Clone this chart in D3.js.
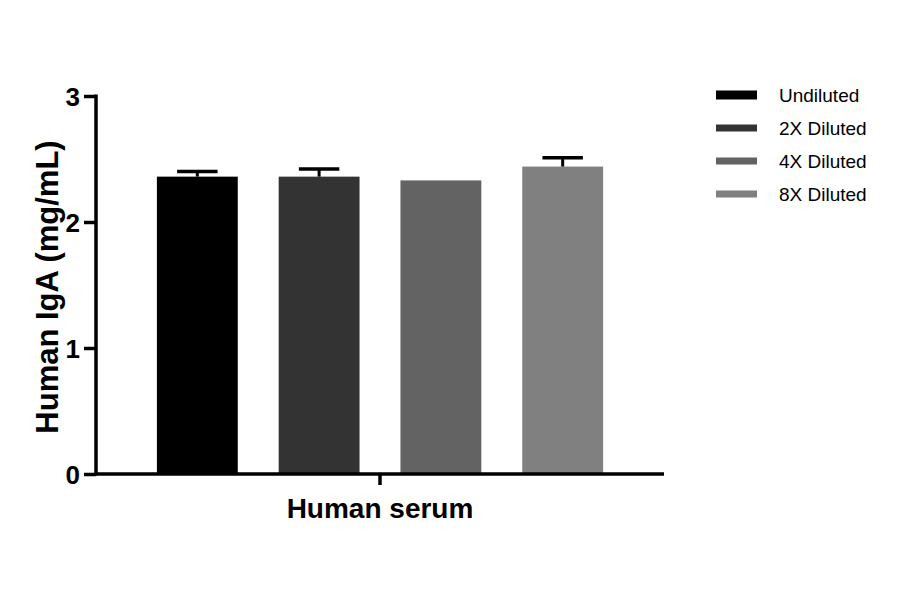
<!DOCTYPE html>
<html lang="en">
<head>
<meta charset="utf-8">
<title>Human IgA</title>
<style>
    body { margin: 0; background: #fff; }
    .axis path, .axis line { stroke: #000; stroke-width: 3.5px; }
    .axis text { font: bold 26px "Liberation Sans", Arial, sans-serif; fill: #000; }
    .legend text { font: 19px "Liberation Sans", Arial, sans-serif; fill: #000; }
</style>
</head>
<body>
<script src="https://cdn.jsdelivr.net/npm/d3@7"></script>
<script>

    // data
    var series = ["Undiluted", "2X Diluted", "4X Diluted", "8X Diluted"];
    var means = [2.36, 2.36, 2.33, 2.44];
    var errors = [0.04, 0.06, 0, 0.07];
    var colors = ["#000000", "#333333", "#636363", "#808080"];
    var yTicks = [0, 1, 2, 3];
    var groupLabel = "Human serum";

    var width = 900, height = 594;
    var margin = {top: 96, left: 96, bottom: 120, right: 236};

    var svg = d3.select("body").append("svg")
        .attr("width", width)
        .attr("height", height);

    var y = d3.scaleLinear()
        .domain([0, 3])
        .range([height - margin.bottom, margin.top]);

    var x = d3.scaleBand()
        .domain(series)
        .range([margin.left, width - margin.right])
        .paddingInner(0.336)
        .paddingOuter(0.5);

    // bars
    svg.selectAll("rect.bar")
        .data(series)
        .enter().append("rect")
        .attr("class", "bar")
        .attr("x", function(d) { return x(d); })
        .attr("y", function(d, i) { return y(means[i]); })
        .attr("width", x.bandwidth())
        .attr("height", function(d, i) { return y(0) - y(means[i]); })
        .attr("fill", function(d, i) { return colors[i]; });

    // error bars (upper only)
    var err = svg.selectAll("g.err")
        .data(series.filter(function(d, i) { return errors[i] > 0; }))
        .enter().append("g")
        .attr("class", "err");

    err.append("line")
        .attr("x1", function(d) { return x(d) + x.bandwidth() / 2; })
        .attr("x2", function(d) { return x(d) + x.bandwidth() / 2; })
        .attr("y1", function(d) { return y(means[series.indexOf(d)]); })
        .attr("y2", function(d) { var i = series.indexOf(d); return y(means[i] + errors[i]); })
        .attr("stroke", "#000")
        .attr("stroke-width", 3);

    err.append("line")
        .attr("x1", function(d) { return x(d) + x.bandwidth() / 4; })
        .attr("x2", function(d) { return x(d) + x.bandwidth() * 3 / 4; })
        .attr("y1", function(d) { var i = series.indexOf(d); return y(means[i] + errors[i]); })
        .attr("y2", function(d) { var i = series.indexOf(d); return y(means[i] + errors[i]); })
        .attr("stroke", "#000")
        .attr("stroke-width", 3.5);

    // y axis
    var yAxis = svg.append("g")
        .attr("class", "axis")
        .attr("transform", "translate(" + margin.left + ",0)")
        .call(d3.axisLeft(y).tickValues(yTicks).tickFormat(d3.format("d")).tickSize(12).tickSizeOuter(0));
    yAxis.select("path").attr("d", "M0," + (y(3) - 1.5) + "V" + (y(0) + 1.5));
    yAxis.selectAll("text").attr("x", -16).attr("dy", "0.36em");

    // x axis
    var xg = d3.scaleBand().domain([groupLabel]).range([margin.left, width - margin.right]);
    var xAxis = svg.append("g")
        .attr("class", "axis")
        .attr("transform", "translate(0," + y(0) + ")")
        .call(d3.axisBottom(xg).tickSize(11).tickSizeOuter(0));
    xAxis.select("path").attr("d", "M" + (margin.left - 1.5) + ",0H" + (width - margin.right));
    xAxis.selectAll("text").attr("y", 44).attr("dy", 0).style("font-size", "28px");

    // y title
    svg.append("text")
        .attr("transform", "translate(58," + ((y(0) + y(3)) / 2 + 2) + ") rotate(-90)")
        .attr("text-anchor", "middle")
        .style("font", "bold 31px 'Liberation Sans', Arial, sans-serif")
        .text("Human IgA (mg/mL)");

    // legend
    var legend = svg.append("g").attr("class", "legend")
        .attr("transform", "translate(716,95)");
    var legendY = d3.scalePoint().domain(series).range([0, 99]);

    legend.selectAll("rect")
        .data(series)
        .enter().append("rect")
        .attr("x", 0)
        .attr("y", function(d, i) { return legendY(d) - (i === 0 ? 4.5 : 3.5); })
        .attr("width", 41)
        .attr("height", function(d, i) { return i === 0 ? 9 : 7; })
        .attr("fill", function(d, i) { return colors[i]; });

    legend.selectAll("text")
        .data(series)
        .enter().append("text")
        .attr("x", 63)
        .attr("y", function(d) { return legendY(d); })
        .attr("dy", "0.36em")
        .text(function(d) { return d; });

</script>
</body>
</html>
